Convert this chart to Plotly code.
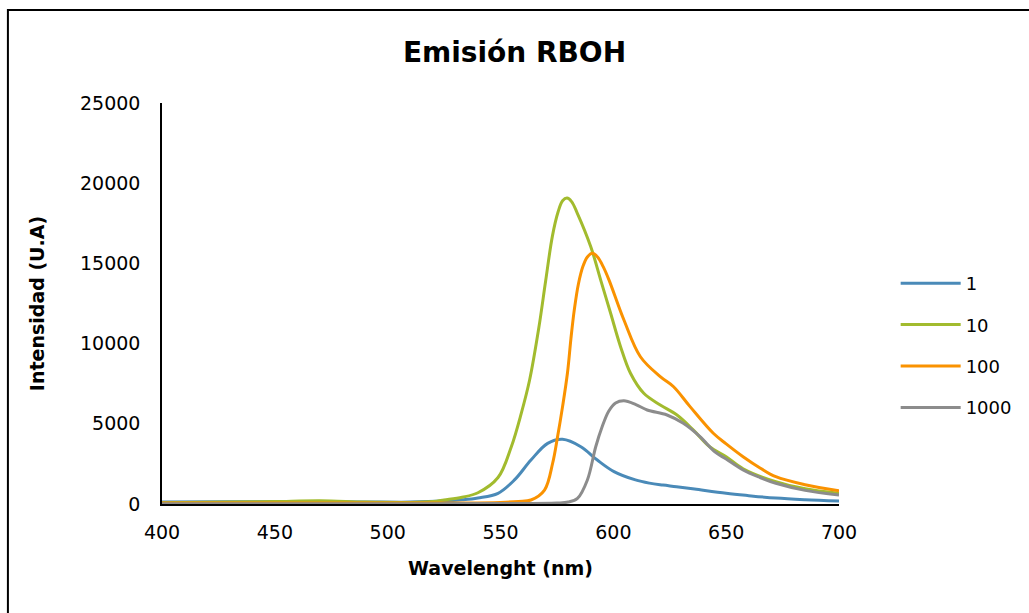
import plotly.graph_objects as go

# Emission spectra of RBOH at four concentrations
series_names = ["1", "10", "100", "1000"]
series_colors = ["#4A8AB8", "#A2BB2E", "#FA9200", "#8C8C8C"]

wl_1 = [400, 430, 460, 490, 510, 525, 533, 540, 548.9, 556.2, 563.5, 570.9, 577.5, 585.6,
        592.9, 600.3, 609.8, 616, 622, 628, 636, 650, 660, 672, 685, 700]
int_1 = [120, 140, 150, 130, 120, 180, 260, 380, 665, 1500, 2740, 3780, 4030, 3570,
         2740, 2020, 1500, 1300, 1180, 1080, 930, 665, 520, 370, 270, 190]

wl_10 = [400, 430, 450, 470, 490, 510, 520, 525, 533, 540, 548.9, 554.8, 559.2, 562.9, 567,
         570, 573, 575.5, 577.5, 579.5, 581.5, 584, 590, 594.4, 598.8, 603.2, 607.6, 613.5,
         620.8, 628.2, 635.5, 642.7, 650, 657.5, 672, 685, 700]
int_10 = [80, 120, 150, 200, 120, 100, 150, 250, 420, 700, 1650, 3570, 5650, 7730, 11000,
          13900, 16700, 18200, 18900, 19070, 18850, 18140, 16040, 13960, 11890, 9810, 8150,
          6900, 6170, 5550, 4610, 3570, 2950, 2200, 1390, 950, 665]

wl_100 = [400, 450, 500, 530, 550, 558, 563.5, 569.5, 573.1, 575.3, 577.5, 579.7, 581.2,
          582.7, 584.5, 586.5, 588.5, 590.7, 593, 595.5, 598.1, 604.7, 612, 620.8, 626.7, 634,
          644.3, 650, 657.5, 665, 672, 685, 700]
int_100 = [60, 70, 60, 60, 100, 160, 250, 870, 2540, 4200, 6070, 8200, 10300, 12100, 13700,
           14800, 15400, 15630, 15400, 14800, 13960, 11470, 9180, 7940, 7310, 6070, 4410, 3750,
           2950, 2250, 1700, 1200, 830]

wl_1000 = [400, 450, 500, 550, 575, 580, 584.1, 588.5, 592.2, 595, 598, 601, 604.7, 610, 615,
           623.8, 631, 638.4, 645, 650, 657.5, 665, 672, 685, 700]
int_1000 = [20, 20, 20, 30, 60, 120, 350, 1500, 3570, 4800, 5800, 6300, 6440, 6200, 5860,
            5550, 5030, 4200, 3250, 2800, 2120, 1650, 1290, 850, 560]

x_ticks = [400, 450, 500, 550, 600, 650, 700]
y_ticks = [0, 5000, 10000, 15000, 20000, 25000]
y_tick_labels = ["0", "5000", "10000", "15000", "20000", "25000"]

FONT = "DejaVu Sans"

fig = go.Figure()
for name, color, xs, ys in zip(series_names, series_colors,
                               [wl_1, wl_10, wl_100, wl_1000],
                               [int_1, int_10, int_100, int_1000]):
    fig.add_trace(go.Scatter(
        x=xs, y=ys, mode="lines", name=name, legendgroup=name,
        line=dict(color=color, width=3, shape="spline", smoothing=1.0),
    ))

# Margins place the plot area; the outer frame is drawn in paper coordinates
L, R, T, B = 162, 186, 103, 109
W, H = 1029, 613
pw, ph = W - L - R, H - T - B


def px_x(p):
    return (p - L) / pw


def px_y(p):
    return (H - B - p) / ph


fig.update_layout(
    width=W, height=H,
    margin=dict(l=L, r=R, t=T, b=B),
    paper_bgcolor="white", plot_bgcolor="white",
    font=dict(family=FONT, color="black", size=18),
    title=dict(text="<b>Emisión RBOH</b>", x=0.5, xanchor="center",
               y=1 - 52 / H, yanchor="middle",
               font=dict(family=FONT, size=28, color="black")),
    showlegend=True,
    legend=dict(x=px_x(900), y=px_y(265), xanchor="left", yanchor="top",
                traceorder="grouped", tracegroupgap=15,
                font=dict(family=FONT, size=18, color="black"),
                itemwidth=60, bgcolor="rgba(0,0,0,0)"),
    xaxis=dict(range=[400, 700], tickvals=x_ticks, showgrid=False, zeroline=False,
               showline=True, linecolor="black", linewidth=2, ticks="",
               ticklabelstandoff=10, tickfont=dict(size=19),
               title=dict(text="<b>Wavelenght (nm)</b>", standoff=20,
                          font=dict(size=19))),
    yaxis=dict(range=[0, 25000], tickvals=y_ticks, ticktext=y_tick_labels,
               showgrid=False, zeroline=False,
               showline=True, linecolor="black", linewidth=1.5, ticks="",
               ticklabelstandoff=16, tickfont=dict(size=19),
               title=dict(text="<b>Intensidad (U.A)</b>", standoff=30,
                          font=dict(size=19))),
    shapes=[dict(type="rect", xref="paper", yref="paper",
                 x0=px_x(7), x1=px_x(1040), y0=px_y(625), y1=px_y(10),
                 line=dict(color="black", width=2), fillcolor="rgba(0,0,0,0)",
                 layer="below")],
)

fig.write_html("out.html")
